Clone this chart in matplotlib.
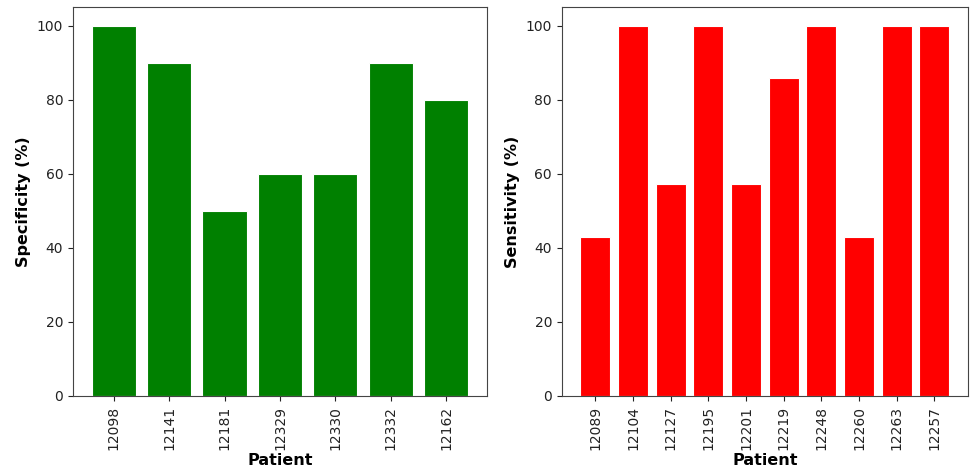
import matplotlib
matplotlib.use('Agg')
import matplotlib.pyplot as plt

# Per-patient results
spec_patients = ['12098', '12141', '12181', '12329', '12330', '12332', '12162']
specificity = [100, 90, 50, 60, 60, 90, 80]

sens_patients = ['12089', '12104', '12127', '12195', '12201', '12219', '12248', '12260', '12263', '12257']
sensitivity = [42.86, 100, 57.14, 100, 57.14, 85.71, 100, 42.86, 100, 100]

plt.rcParams['font.size'] = 10

fig = plt.figure(figsize=(9.77, 4.69), dpi=100)
ax1 = fig.add_axes([0.0747, 0.1557, 0.4237, 0.8294])
ax2 = fig.add_axes([0.575, 0.1557, 0.4156, 0.8294])

def draw_panel(ax, patients, values, color, ylabel):
    ax.bar(range(len(patients)), values, color=color, edgecolor='white', linewidth=0.8)
    ax.set_xticks(range(len(patients)))
    ax.set_xticklabels(patients, rotation=90)
    ax.tick_params(labelsize=10, colors='#222222')
    ax.set_xlabel('Patient', fontweight='bold', fontsize=11.5, labelpad=2)
    ax.set_ylabel(ylabel, fontweight='bold', fontsize=11.5)
    for spine in ax.spines.values():
        spine.set_color('#444444')

draw_panel(ax1, spec_patients, specificity, 'green', 'Specificity (%)')
draw_panel(ax2, sens_patients, sensitivity, 'red', 'Sensitivity (%)')

fig.savefig('out.png', dpi=100)
